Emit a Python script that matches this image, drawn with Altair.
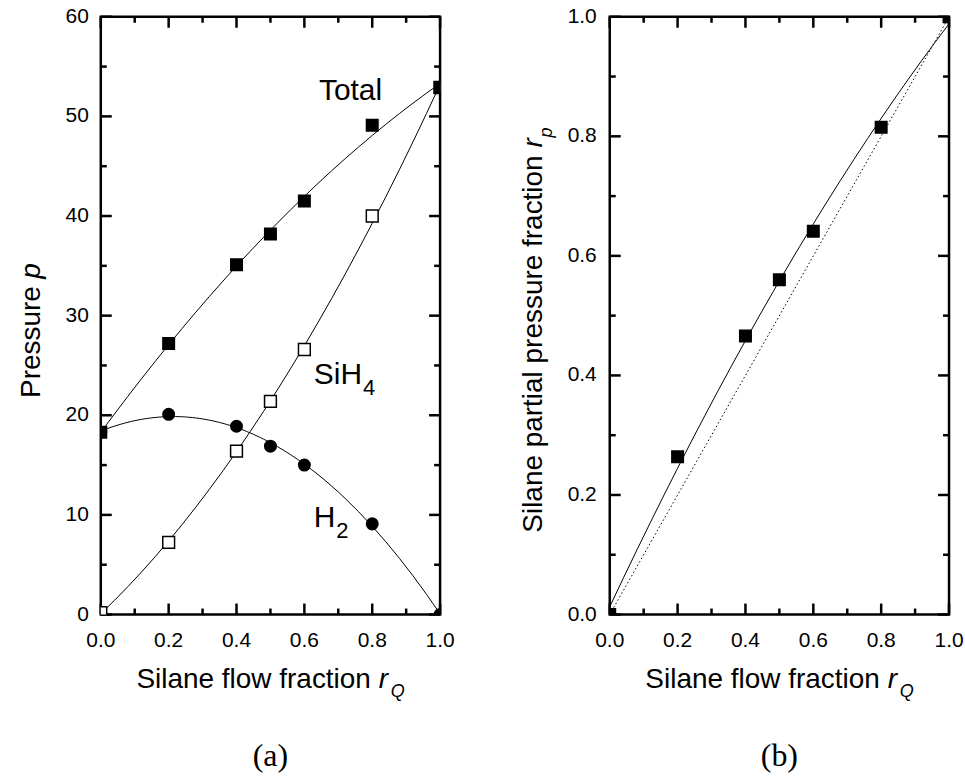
import altair as alt
import pandas as pd

# ---------------- data ----------------
# panel (a): pressure vs silane flow fraction
rq = [0.0, 0.2, 0.4, 0.5, 0.6, 0.8, 1.0]
p_total = [18.3, 27.2, 35.1, 38.2, 41.5, 49.1, 52.9]
p_sih4 = [0.2, 7.25, 16.4, 21.4, 26.6, 40.0, 52.9]
p_h2 = [18.3, 20.1, 18.9, 16.9, 15.0, 9.1, 0.0]

# panel (b): silane partial pressure fraction vs flow fraction
rp = [0.0, 0.264, 0.466, 0.560, 0.641, 0.815, 1.0]
diag_x = [0.0, 1.0]
diag_y = [0.0, 1.0]

# tick values and tick labels
frac_major = [0.0, 0.2, 0.4, 0.6, 0.8, 1.0]
frac_labels = ["0.0", "0.2", "0.4", "0.6", "0.8", "1.0"]
frac_minor = [0.1, 0.3, 0.5, 0.7, 0.9]
p_major = [0, 10, 20, 30, 40, 50, 60]
p_labels = ["0", "10", "20", "30", "40", "50", "60"]
p_minor = [5, 15, 25, 35, 45, 55]

# curve labels in panel (a)
curve_labels = ["Total", "SiH", "H"]
curve_subs = ["4", "2"]

# ---------------- styling / layout ----------------
SANS = "Liberation Sans"
SERIF = "Liberation Serif"
W, H = 340, 599
MAJ, MIN = 11, 6
TICK_W = 2.5
ONE = alt.Data(values=[{"k": 0}])

label_pos = pd.DataFrame({"text": curve_labels, "x": [0.643, 0.628, 0.628], "y": [51.6, 23.1, 8.8]})
sub_pos = pd.DataFrame({"text": curve_subs, "x": [0.773, 0.694], "y": [22.0, 7.7]})


def X(field, domain):
    return alt.X(f"{field}:Q", scale=alt.Scale(domain=domain, nice=False, zero=False), axis=None)


def Y(field, domain):
    return alt.Y(f"{field}:Q", scale=alt.Scale(domain=domain, nice=False, zero=False), axis=None)


def xticks(values, domain, size):
    df = pd.DataFrame({"v": values})
    rule = dict(color="black", strokeWidth=TICK_W)
    bottom = alt.Chart(df).mark_rule(**rule).encode(
        x=X("v", domain), y=alt.value(H), y2=alt.value(H - size))
    top = alt.Chart(df).mark_rule(**rule).encode(
        x=X("v", domain), y=alt.value(0), y2=alt.value(size))
    return [bottom, top]


def yticks(values, domain, size):
    df = pd.DataFrame({"v": values})
    rule = dict(color="black", strokeWidth=TICK_W)
    left = alt.Chart(df).mark_rule(**rule).encode(
        y=Y("v", domain), x=alt.value(0), x2=alt.value(size))
    right = alt.Chart(df).mark_rule(**rule).encode(
        y=Y("v", domain), x=alt.value(W), x2=alt.value(W - size))
    return [left, right]


def xlabels(values, labels, domain):
    df = pd.DataFrame({"v": values, "t": labels})
    return alt.Chart(df).mark_text(font=SANS, fontSize=21, color="black", align="center",
                                   baseline="top").encode(
        x=X("v", domain), y=alt.value(H + 16), text="t:N")


def ylabels(values, labels, domain, pad):
    df = pd.DataFrame({"v": values, "t": labels})
    return alt.Chart(df).mark_text(font=SANS, fontSize=21, color="black", align="right",
                                   baseline="middle").encode(
        y=Y("v", domain), x=alt.value(-pad), text="t:N")


def ptext(s, x, y, size=28, italic=False, angle=0, font=SANS, align="left"):
    mk = dict(text=s, font=font, fontSize=size, color="black", align=align, baseline="alphabetic")
    if italic:
        mk["fontStyle"] = "italic"
    if angle:
        mk["angle"] = angle
    return alt.Chart(ONE).mark_text(**mk).encode(x=alt.value(x), y=alt.value(y))


def anchor():
    return alt.Chart(ONE).mark_rule(strokeOpacity=0, strokeWidth=0.1).encode(
        x=alt.value(-99), x2=alt.value(-99), y=alt.value(-14), y2=alt.value(-14))


def xtitle():
    return [
        ptext("Silane flow fraction", 35.7, 673),
        ptext("r", 278.5, 673, italic=True),
        ptext("Q", 290.5, 682, size=18, italic=True),
    ]


line_style = dict(color="black", strokeWidth=1, clip=True)

# ---------------- panel (a) ----------------
d_total = pd.DataFrame({"rq": rq, "p": p_total})
d_sih4 = pd.DataFrame({"rq": rq, "p": p_sih4})
d_h2 = pd.DataFrame({"rq": rq, "p": p_h2})
XD, YD = [0, 1], [0, 60]

a_layers = [
    alt.Chart(d_total).transform_regression("rq", "p", method="poly", order=2)
    .mark_line(**line_style).encode(x=X("rq", XD), y=Y("p", YD)),
    alt.Chart(d_sih4).transform_regression("rq", "p", method="poly", order=2)
    .mark_line(**line_style).encode(x=X("rq", XD), y=Y("p", YD)),
    alt.Chart(d_h2).transform_regression("rq", "p", method="poly", order=2)
    .mark_line(**line_style).encode(x=X("rq", XD), y=Y("p", YD)),
    *xticks(frac_major, XD, MAJ),
    *xticks(frac_minor, XD, MIN),
    *yticks(p_major, YD, MAJ),
    *yticks(p_minor, YD, MIN),
    xlabels(frac_major, frac_labels, XD),
    ylabels(p_major, p_labels, YD, 12),
    alt.Chart(d_sih4).mark_point(shape="square", filled=True, fill="white", stroke="black",
                                 strokeWidth=1.5, size=140, opacity=1, clip=True)
    .encode(x=X("rq", XD), y=Y("p", YD)),
    alt.Chart(d_h2).mark_circle(color="black", size=170, opacity=1, clip=True)
    .encode(x=X("rq", XD), y=Y("p", YD)),
    alt.Chart(d_total).mark_point(shape="square", filled=True, color="black", size=170,
                                  opacity=1, clip=True)
    .encode(x=X("rq", XD), y=Y("p", YD)),
    alt.Chart(label_pos).mark_text(font=SANS, fontSize=30, color="black", align="left",
                                   baseline="alphabetic")
    .encode(x=X("x", XD), y=Y("y", YD), text="text:N"),
    alt.Chart(sub_pos).mark_text(font=SANS, fontSize=22, color="black", align="left",
                                 baseline="alphabetic")
    .encode(x=X("x", XD), y=Y("y", YD), text="text:N"),
    ptext("Pressure", -61, 382, angle=270),
    ptext("p", -61, 262.5, italic=True, angle=270),
    *xtitle(),
    ptext("(a)", 170, 751, size=32, font=SERIF, align="center"),
    anchor(),
]
panel_a = alt.layer(*a_layers).properties(width=W, height=H)

# ---------------- panel (b) ----------------
d_rp = pd.DataFrame({"rq": rq, "rp": rp})
d_diag = pd.DataFrame({"rq": diag_x, "rp": diag_y})
YB = [0, 1]

b_layers = [
    alt.Chart(d_rp).transform_regression("rq", "rp", method="poly", order=2)
    .mark_line(**line_style).encode(x=X("rq", XD), y=Y("rp", YB)),
    alt.Chart(d_diag).mark_line(color="black", strokeWidth=1, strokeDash=[1.5, 2.5], clip=True)
    .encode(x=X("rq", XD), y=Y("rp", YB)),
    *xticks(frac_major, XD, MAJ),
    *xticks(frac_minor, XD, MIN),
    *yticks(frac_major, YB, MAJ),
    *yticks(frac_minor, YB, MIN),
    xlabels(frac_major, frac_labels, XD),
    ylabels(frac_major, frac_labels, YB, 13),
    alt.Chart(d_rp).mark_point(shape="square", filled=True, color="black", size=170,
                               opacity=1, clip=True)
    .encode(x=X("rq", XD), y=Y("rp", YB)),
    ptext("Silane partial pressure fraction", -68, 517, angle=270),
    ptext("r", -68, 131, italic=True, angle=270),
    ptext("p", -58, 121, size=18, italic=True, angle=270),
    *xtitle(),
    ptext("(b)", 170, 751, size=32, font=SERIF, align="center"),
]
panel_b = alt.layer(*b_layers).properties(width=W, height=H)

chart = (
    alt.hconcat(panel_a, panel_b, spacing=170, bounds="flush")
    .properties(padding=0, background="white")
    .configure_view(stroke="black", strokeWidth=2.5)
)

chart.save("out.html", embed_options={"renderer": "svg", "actions": False})
